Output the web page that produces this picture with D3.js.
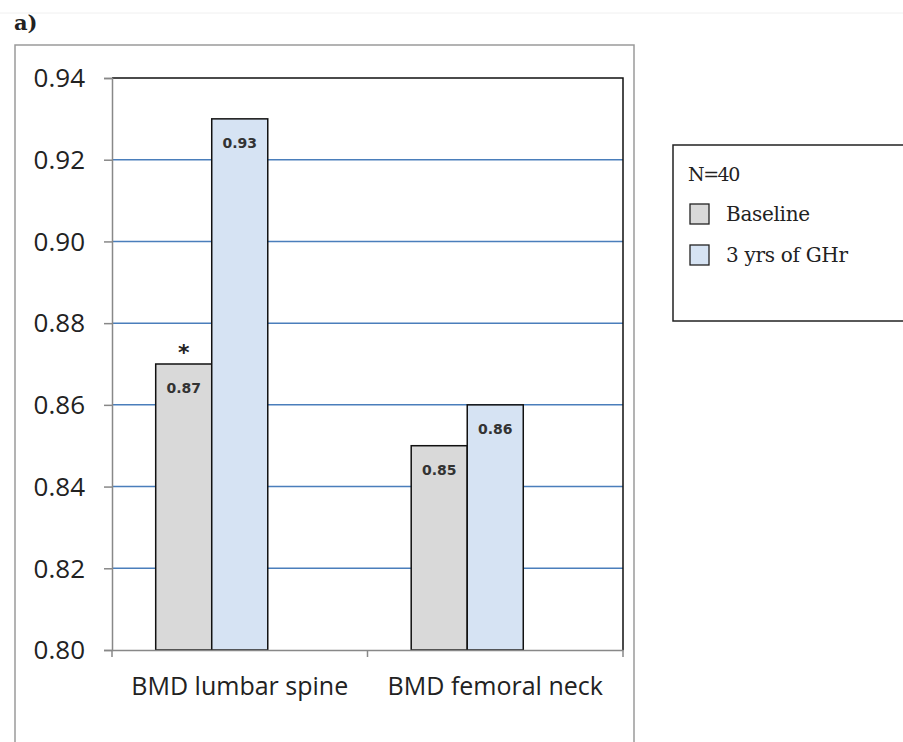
<!DOCTYPE html>
<html><head><meta charset="utf-8">
<script src="https://cdn.jsdelivr.net/npm/d3@7"></script>
<style>body{margin:0;background:#fff}svg{display:block}</style>
</head><body>
<svg id="c" width="903" height="742"></svg>
<script>
const categories = ["BMD lumbar spine", "BMD femoral neck"];
const seriesNames = ["Baseline", "3 yrs of GHr", "N=40"];
const baselineValues = [0.87, 0.85];
const ghrValues = [0.93, 0.86];
const yTicks = [0.80, 0.82, 0.84, 0.86, 0.88, 0.90, 0.92, 0.94];
const seriesColors = ["#d9d9d9", "#d6e3f3", "none"];
const legendTitle = "N=40";
const legendItems = ["Baseline", "3 yrs of GHr"];
const annotation = {category: "BMD lumbar spine", series: "Baseline", text: "*"};

const svg = d3.select("#c");
const m = {l:112, r:623, t:78, b:650};
const sans = "Open Sans, sans-serif";

// page decoration
svg.append("line").attr("x1",0).attr("x2",903).attr("y1",13).attr("y2",13).attr("stroke","#f0f0f0");
svg.append("text").attr("x",14).attr("y",30).text("a)")
  .attr("font-family","DejaVu Serif").attr("font-weight","bold").attr("font-size",21).attr("fill","#222");
svg.append("path").attr("d",`M15,760V45H634V760`).attr("fill","none").attr("stroke","#9a9a9a").attr("stroke-width",1.5);

const y = d3.scaleLinear().domain([0.80,0.94]).range([m.b,m.t]);
const x0 = d3.scaleBand().domain(categories).range([m.l,m.r]).paddingInner(0).paddingOuter(0);
const x1 = d3.scaleBand().domain(seriesNames).range([0,x0.bandwidth()]).paddingInner(0).paddingOuter(0.78);

// gridlines
svg.append("g").selectAll("line").data(yTicks.filter(t=>t>0.801 && t<0.939)).join("line")
  .attr("x1",m.l).attr("x2",m.r).attr("y1",d=>y(d)).attr("y2",d=>y(d))
  .attr("stroke","#4a7ebb").attr("stroke-width",1.5);

// plot frame top/right
svg.append("path").attr("d",`M${m.l},${m.t}H${m.r}V${m.b}`).attr("fill","none").attr("stroke","#111").attr("stroke-width",1.5);

// y axis
const ya = svg.append("g").attr("transform",`translate(${m.l},0)`)
  .call(d3.axisLeft(y).tickValues(yTicks).tickFormat(d3.format(".2f")).tickSize(8).tickPadding(19));
ya.select(".domain").attr("stroke","#888").attr("stroke-width",1.5);
ya.selectAll(".tick line").attr("stroke","#888").attr("stroke-width",1.5);
ya.selectAll("text").attr("font-family",sans).attr("font-size",26).attr("fill","#222").attr("dy","0.34em");

// bars
const data = [];
categories.forEach((c,i)=>{
  data.push({c, s:"Baseline", v:baselineValues[i], col:seriesColors[0]});
  data.push({c, s:"3 yrs of GHr", v:ghrValues[i], col:seriesColors[1]});
});
const bars = svg.append("g");
bars.selectAll("rect").data(data).join("rect")
  .attr("x",d=>x0(d.c)+x1(d.s)).attr("width",x1.bandwidth())
  .attr("y",d=>y(d.v)).attr("height",d=>y(0.80)-y(d.v))
  .attr("fill",d=>d.col).attr("stroke","#111").attr("stroke-width",1.5);
bars.selectAll("text").data(data).join("text")
  .attr("x",d=>x0(d.c)+x1(d.s)+x1.bandwidth()/2).attr("y",d=>y(d.v)+29)
  .attr("text-anchor","middle").text(d=>d3.format(".2f")(d.v))
  .attr("font-family","DejaVu Sans, sans-serif").attr("font-weight","bold").attr("font-size",14).attr("fill","#333");

// asterisk
const aVal = baselineValues[categories.indexOf(annotation.category)];
svg.append("text").attr("x",x0(annotation.category)+x1(annotation.series)+x1.bandwidth()/2)
  .attr("y",y(aVal)-4).attr("text-anchor","middle").text(annotation.text)
  .attr("font-family","DejaVu Sans, sans-serif").attr("font-weight","bold").attr("font-size",22).attr("fill","#222");

// x axis
const xa = svg.append("g").attr("transform",`translate(0,${m.b})`)
  .call(d3.axisBottom(x0).tickSize(0).tickPadding(0));
xa.select(".domain").attr("stroke","#888").attr("stroke-width",1.5);
xa.selectAll("text").attr("font-family",sans).attr("font-size",25).attr("fill","#222").attr("dy",null).attr("y",45);
svg.append("g").selectAll("line").data([m.l, ...categories.slice(1).map(c=>x0(c)), m.r]).join("line")
  .attr("x1",d=>d).attr("x2",d=>d).attr("y1",m.b).attr("y2",m.b+7)
  .attr("stroke","#888").attr("stroke-width",1.5);

// legend
const lg = svg.append("g");
lg.append("rect").attr("x",673).attr("y",145).attr("width",260).attr("height",176)
  .attr("fill","#fff").attr("stroke","#222").attr("stroke-width",1.5);
const serif = "DejaVu Serif, serif";
lg.append("text").attr("x",688).attr("y",181).text(legendTitle)
  .attr("font-family",serif).attr("font-size",19).attr("fill","#222").attr("letter-spacing",-1.5);
legendItems.forEach((name,i)=>{
  const yy = 204 + i*41;
  lg.append("rect").attr("x",690).attr("y",yy).attr("width",19).attr("height",20)
    .attr("fill",seriesColors[seriesNames.indexOf(name)]).attr("stroke","#222").attr("stroke-width",1.3);
  lg.append("text").attr("x",726).attr("y",yy+17).text(name)
    .attr("font-family",serif).attr("font-size",20).attr("fill","#222").attr("letter-spacing",-0.3);
});
</script>
</body></html>
